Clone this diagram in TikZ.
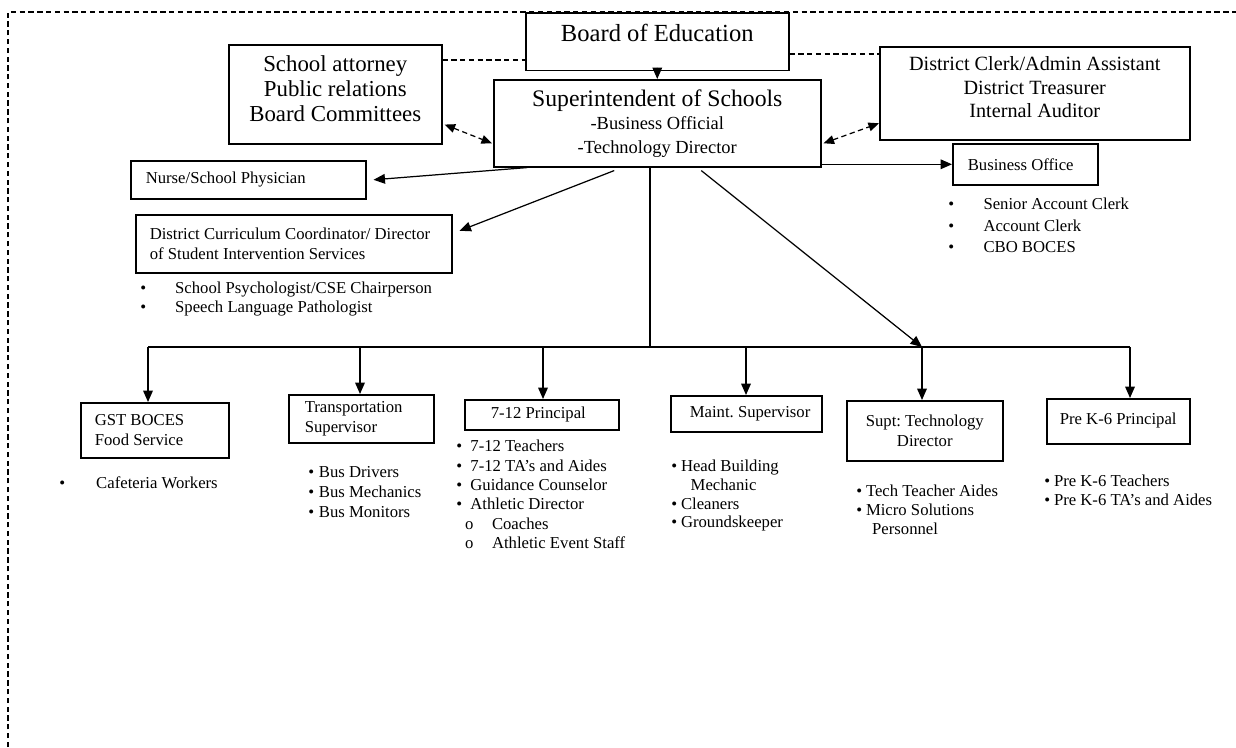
\documentclass[tikz,border=0pt]{standalone}
\usepackage{fontspec}
\setmainfont{Liberation Serif}
\usetikzlibrary{arrows.meta,calc}

\newcommand{\itemdot}[1]{\makebox[#1][l]{\textbullet}}
\newcommand{\tightsp}{\spaceskip=0pt\xspaceskip=0pt\frenchspacing}

\begin{document}
\begin{tikzpicture}[x=0.02cm, y=-0.02cm, >=Triangle]

\tikzset{
  box/.style={draw, line width=0.9pt, inner ysep=0pt, anchor=north west,
              execute at begin node={\tightsp}},
  lbox/.style 2 args={box, align=left, inner xsep=0pt, text width=#1,
                      execute at begin node={\tightsp\leftskip=#2\relax},
                      font=\fontsize{9.5}{11.5}\selectfont},
  cbox/.style={box, align=center, inner xsep=0pt},
  list/.style={anchor=north west, inner sep=0pt, align=left,
               execute at begin node={\tightsp}},
  arr/.style={-{Triangle[length=6.5pt,width=5.5pt]}, line width=0.7pt},
  dline/.style={dash pattern=on 3pt off 2pt, line width=0.7pt},
  darr/.style={dline, {Triangle[length=6pt,width=5pt]}-{Triangle[length=6pt,width=5pt]}}
}

\useasboundingbox (0,0) rectangle (1236,747);

% --- Moldura tracejada ---
\coordinate (fbl) at (8,747);
\coordinate (ftl) at (8,12);
\coordinate (ftr) at (1236,12);
\draw[dline, line width=0.6pt] (fbl) -- (ftl) -- (ftr);

% --- Topo ---
\node[box, inner xsep=0pt, minimum width=5.26cm, text height=16.45pt, text depth=16.45pt,
      font=\fontsize{14}{16}\selectfont] (board) at (525,12) {Board of Education};

\node[cbox, minimum width=4.26cm, minimum height=1.98cm, text depth=7pt,
      font=\fontsize{13}{14.2}\selectfont] (attn) at (228,44)
      {School attorney\\Public relations\\Board Committees};

\node[cbox, minimum width=6.54cm, minimum height=1.74cm,
      font=\fontsize{10.5}{13.3}\selectfont] (supt) at (493,79)
      {{\fontsize{13.5}{13.3}\selectfont Superintendent of Schools}\\-Business Official\\-Technology Director};

\node[cbox, minimum width=6.2cm, minimum height=1.86cm, text depth=7pt,
      font=\fontsize{11.5}{13.3}\selectfont] (clerk) at (879,46)
      {District Clerk/Admin Assistant\\District Treasurer\\Internal Auditor};

% --- Nivel intermediario ---
\node[lbox={2.9cm}{0.3cm}, minimum height=0.82cm] (bizoff) at (952,143) {Business Office};
\node[lbox={4.7cm}{0.3cm}, minimum height=0.76cm] (nurse) at (130,160) {Nurse/School Physician};
\node[lbox={6.32cm}{0.28cm}, minimum height=1.16cm] (curr) at (135,214)
      {District Curriculum Coordinator/ Director\\of Student Intervention Services};

\node[list, font=\fontsize{9.5}{12}\selectfont] (bizlist) at (948,198)
      {\itemdot{20pt}Senior Account Clerk\\\itemdot{20pt}Account Clerk\\\itemdot{20pt}CBO BOCES};
\node[list, font=\fontsize{9.5}{10.8}\selectfont] (currlist) at (140,282)
      {\itemdot{19.8pt}School Psychologist/CSE Chairperson\\\itemdot{19.8pt}Speech Language Pathologist};

% --- Nivel inferior ---
\node[lbox={2.96cm}{0.28cm}, minimum height=1.1cm] (gst) at (80,402) {GST BOCES\\Food Service};
\node[lbox={2.9cm}{0.32cm}, minimum height=0.96cm] (trans) at (288,394) {Transportation\\Supervisor};
\node[lbox={3.08cm}{0.52cm}, minimum height=0.6cm] (p712) at (464,399) {7-12 Principal};
\node[lbox={3.02cm}{0.38cm}, minimum height=0.72cm] (maint) at (670,395) {Maint. Supervisor};
\node[cbox, minimum width=3.12cm, minimum height=1.2cm, font=\fontsize{9.5}{11.3}\selectfont] (stech) at (846,400)
      {Supt: Technology\\Director};
\node[lbox={2.86cm}{0.26cm}, minimum height=0.9cm, text depth=3pt] (pk6) at (1046,398) {Pre K-6 Principal};

\node[list, font=\fontsize{9.5}{11}\selectfont] (caflist) at (59,476) {\itemdot{21pt}Cafeteria Workers};
\node[list, font=\fontsize{9.5}{11.3}\selectfont] (buslist) at (308,466)
      {\itemdot{6pt}Bus Drivers\\\itemdot{6pt}Bus Mechanics\\\itemdot{6pt}Bus Monitors};
\node[list, font=\fontsize{9.5}{11}\selectfont] (p712list) at (456,440)
      {\itemdot{8pt}7-12 Teachers\\\itemdot{8pt}7-12 TA’s and Aides\\\itemdot{8pt}Guidance Counselor\\
       \itemdot{8pt}Athletic Director\\\hspace*{5pt}\makebox[15.3pt][l]{o}Coaches\\
       \hspace*{5pt}\makebox[15.3pt][l]{o}Athletic Event Staff};
\node[list, font=\fontsize{9.5}{10.6}\selectfont] (maintlist) at (671,460)
      {\itemdot{5.5pt}Head Building\\\hspace*{11pt}Mechanic\\\itemdot{5.5pt}Cleaners\\\itemdot{5.5pt}Groundskeeper};
\node[list, font=\fontsize{9.5}{10.8}\selectfont] (techlist) at (856,485)
      {\itemdot{5.5pt}Tech Teacher Aides\\\itemdot{5.5pt}Micro Solutions\\\hspace*{9pt}Personnel};
\node[list, font=\fontsize{9.5}{10.8}\selectfont] (pk6list) at (1044,475)
      {\itemdot{5.5pt}Pre K-6 Teachers\\\itemdot{5.5pt}Pre K-6 TA’s and Aides};

% --- Linhas tracejadas e setas duplas ---
\draw[dline] ($(attn.north east)+(0,16)$) -- ($(board.north west)+(0,48)$);
\draw[dline] ($(board.north east)+(0,42)$) -- ($(clerk.north west)+(0,8)$);
\draw[darr] ($(attn.south east)+(2,-20)$) -- ($(supt.west)+(-1,20)$);
\draw[darr] ($(supt.east)+(2,20)$) -- ($(clerk.west)+(0,30)$);

% --- Setas a partir do superintendente ---
\draw[arr] (board.south) -- (supt.north);
\draw[arr] (supt.east |- bizoff.west) -- (bizoff.west);
\draw[arr] ($(supt.south)+(-130,0)$) -- ($(nurse.east)+(7,0)$);
\draw[arr] ($(supt.south)+(-43,3)$) -- ($(curr.east)+(7,-13)$);

% --- Barramento inferior ---
\coordinate (trunk) at (650,347);
\coordinate (b1) at (148,347);
\coordinate (b2) at (360,347);
\coordinate (b3) at (543,347);
\coordinate (b4) at (746,347);
\coordinate (b5) at (922,347);
\coordinate (b6) at (1130,347);

\draw[line width=0.7pt] (supt.south -| trunk) -- (trunk);
\draw[line width=0.7pt] (b1) -- (b6);
\draw[arr] ($(supt.south)+(44,3)$) -- (b5);

\draw[arr] (b1) -- (b1 |- gst.north);
\draw[arr] (b2) -- (b2 |- trans.north);
\draw[arr] (b3) -- (b3 |- p712.north);
\draw[arr] (b4) -- (b4 |- maint.north);
\draw[arr] (b5) -- (b5 |- stech.north);
\draw[arr] (b6) -- (b6 |- pk6.north);

\end{tikzpicture}
\end{document}
